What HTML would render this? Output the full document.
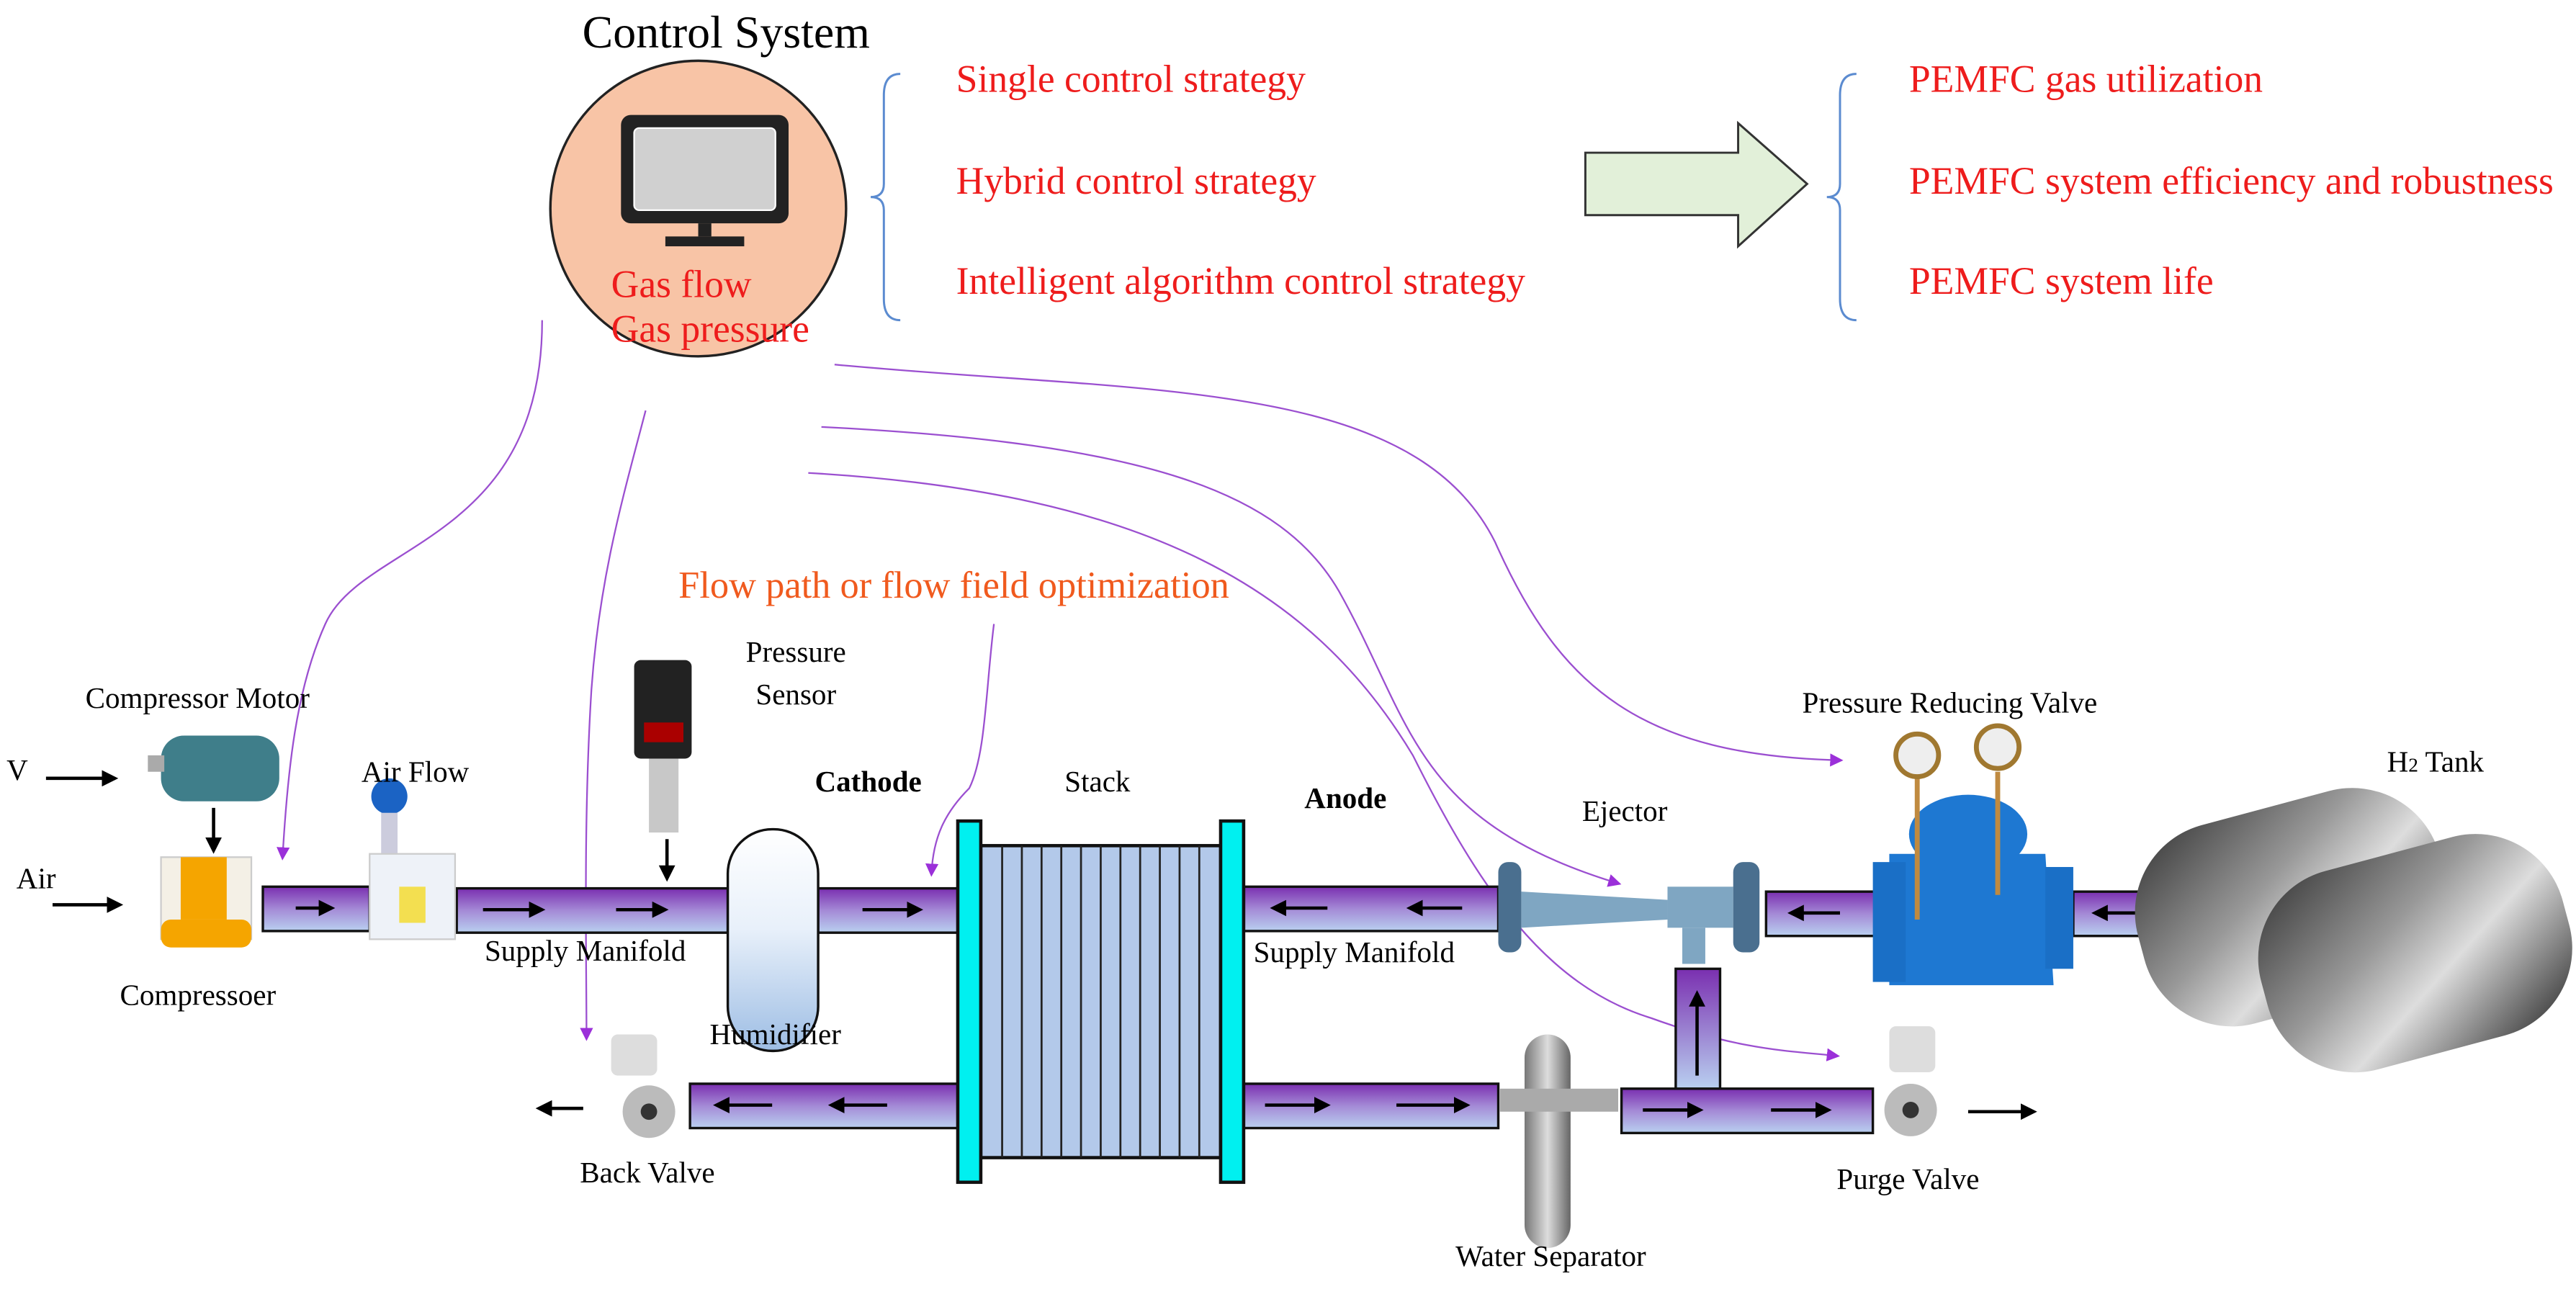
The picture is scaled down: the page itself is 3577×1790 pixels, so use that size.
<!DOCTYPE html>
<html><head><meta charset="utf-8"><style>
html,body{margin:0;padding:0;background:#fff;width:3577px;height:1790px;overflow:hidden}
svg{display:block}
text{font-family:"Liberation Serif",serif}
.r{fill:#ee1c1c;font-size:23.5px}
.k{fill:#000;font-size:18px}
</style></head><body>
<svg width="3577" height="1790" viewBox="0 0 1568 785" preserveAspectRatio="none" xmlns="http://www.w3.org/2000/svg">
<defs>
<linearGradient id="pg" x1="0" y1="0" x2="0" y2="1"><stop offset="0" stop-color="#7a2fb0"/><stop offset="0.5" stop-color="#a48ad6"/><stop offset="1" stop-color="#b9d0f0"/></linearGradient>
<linearGradient id="pv" x1="0" y1="0" x2="0" y2="1"><stop offset="0" stop-color="#7a2fb0"/><stop offset="1" stop-color="#b9d0f0"/></linearGradient>
<linearGradient id="hum" x1="0" y1="0" x2="0" y2="1"><stop offset="0" stop-color="#fff"/><stop offset="0.45" stop-color="#e8f0fa"/><stop offset="1" stop-color="#9dbde4"/></linearGradient>
<linearGradient id="tank" x1="0" y1="0" x2="1" y2="1"><stop offset="0" stop-color="#333"/><stop offset="0.4" stop-color="#999"/><stop offset="0.6" stop-color="#ddd"/><stop offset="1" stop-color="#222"/></linearGradient>
<linearGradient id="steel" x1="0" y1="0" x2="1" y2="0"><stop offset="0" stop-color="#777"/><stop offset="0.5" stop-color="#ddd"/><stop offset="1" stop-color="#666"/></linearGradient>
<marker id="pa" markerWidth="8" markerHeight="8" refX="6" refY="4" orient="auto" markerUnits="userSpaceOnUse"><path d="M0,0 L8,4 L0,8z" fill="#9b30d9"/></marker>
<marker id="ba" markerWidth="10" markerHeight="10" refX="8" refY="5" orient="auto" markerUnits="userSpaceOnUse"><path d="M0,0 L10,5 L0,10z" fill="#000"/></marker>
</defs>

<text x="442" y="29" font-size="28" text-anchor="middle">Control System</text>
<circle cx="425" cy="127" r="90" fill="#f8c4a6" stroke="#222" stroke-width="1.5"/>
<rect x="378" y="70" width="102" height="66" rx="6" fill="#222"/>
<rect x="386" y="78" width="86" height="50" rx="3" fill="#d0d0d0" stroke="#fff" stroke-width="1"/>
<rect x="425" y="136" width="8" height="8" fill="#222"/>
<rect x="405" y="144" width="48" height="6" fill="#222"/>
<text x="372" y="181" class="r" font-size="21">Gas flow</text>
<text x="372" y="208" class="r" font-size="21">Gas pressure</text>

<path d="M548,45 Q538,45 538,58 L538,112 Q538,120 530,120 Q538,120 538,128 L538,182 Q538,195 548,195" fill="none" stroke="#5b8bd0" stroke-width="1.3"/>
<text x="582" y="56" class="r">Single control strategy</text>
<text x="582" y="118" class="r">Hybrid control strategy</text>
<text x="582" y="179" class="r">Intelligent algorithm control strategy</text>

<path d="M965,93 L1058,93 L1058,75 L1100,112 L1058,150 L1058,131 L965,131z" fill="#e2f0d9" stroke="#333" stroke-width="1.3"/>
<path d="M1130,45 Q1120,45 1120,58 L1120,112 Q1120,120 1112,120 Q1120,120 1120,128 L1120,182 Q1120,195 1130,195" fill="none" stroke="#5b8bd0" stroke-width="1.3"/>
<text x="1162" y="56" class="r">PEMFC gas utilization</text>
<text x="1162" y="118" class="r">PEMFC system efficiency and robustness</text>
<text x="1162" y="179" class="r">PEMFC system life</text>

<text x="413" y="364" fill="#f05a1e" font-size="23">Flow path or flow field optimization</text>

<g fill="none" stroke="#9b4fd0" stroke-width="1" marker-end="url(#pa)">
<path d="M330,195 C330,330 220,330 198,380 C180,420 175,470 172,522"/>
<path d="M393,250 C380,300 365,350 360,420 C355,500 357,580 357,632"/>
<path d="M508,222 C700,240 860,230 910,330 C950,420 1000,460 1120,463"/>
<path d="M500,260 C700,270 780,300 815,360 C860,440 860,500 985,538"/>
<path d="M492,288 C700,300 800,360 860,460 C900,540 940,600 1005,620 C1060,640 1090,640 1118,643"/>
<path d="M605,380 C600,420 600,460 590,480 C575,495 568,510 567,532"/>
</g>

<g stroke="#111" stroke-width="1.5" fill="url(#pg)">
<rect x="160" y="540" width="65" height="27"/>
<rect x="278" y="541" width="165" height="27"/>
<rect x="498" y="541" width="86" height="27"/>
<rect x="757" y="540" width="155" height="27"/>
<rect x="1075" y="543" width="66" height="27"/>
<rect x="1262" y="543" width="62" height="27"/>
<rect x="420" y="660" width="164" height="27"/>
<rect x="757" y="660" width="155" height="27"/>
<rect x="987" y="663" width="153" height="27"/>
</g>
<rect x="1020" y="590" width="27" height="73" fill="url(#pv)" stroke="#111" stroke-width="1.5"/>

<g stroke="#000" stroke-width="2" marker-end="url(#ba)">
<line x1="180" y1="553" x2="202" y2="553"/>
<line x1="294" y1="554" x2="330" y2="554"/>
<line x1="375" y1="554" x2="405" y2="554"/>
<line x1="525" y1="554" x2="560" y2="554"/>
<line x1="808" y1="553" x2="775" y2="553"/>
<line x1="890" y1="553" x2="858" y2="553"/>
<line x1="1120" y1="556" x2="1090" y2="556"/>
<line x1="1308" y1="556" x2="1275" y2="556"/>
<line x1="470" y1="673" x2="436" y2="673"/>
<line x1="540" y1="673" x2="506" y2="673"/>
<line x1="770" y1="673" x2="808" y2="673"/>
<line x1="850" y1="673" x2="893" y2="673"/>
<line x1="1000" y1="676" x2="1035" y2="676"/>
<line x1="1078" y1="676" x2="1113" y2="676"/>
<line x1="1033" y1="655" x2="1033" y2="605"/>
<line x1="28" y1="474" x2="70" y2="474"/>
<line x1="32" y1="551" x2="73" y2="551"/>
<line x1="130" y1="492" x2="130" y2="518"/>
<line x1="406" y1="511" x2="406" y2="535"/>
<line x1="355" y1="675" x2="328" y2="675"/>
<line x1="1198" y1="677" x2="1238" y2="677"/>
</g>

<rect x="597" y="515" width="146" height="190" fill="#b3c9ea" stroke="#111" stroke-width="2"/>
<g stroke="#222" stroke-width="1.2">
<line x1="610" y1="515" x2="610" y2="705"/><line x1="622" y1="515" x2="622" y2="705"/><line x1="634" y1="515" x2="634" y2="705"/><line x1="646" y1="515" x2="646" y2="705"/><line x1="658" y1="515" x2="658" y2="705"/><line x1="670" y1="515" x2="670" y2="705"/><line x1="682" y1="515" x2="682" y2="705"/><line x1="694" y1="515" x2="694" y2="705"/><line x1="706" y1="515" x2="706" y2="705"/><line x1="718" y1="515" x2="718" y2="705"/><line x1="730" y1="515" x2="730" y2="705"/>
</g>
<rect x="583" y="500" width="14" height="220" fill="#00f0f0" stroke="#111" stroke-width="2"/>
<rect x="743" y="500" width="14" height="220" fill="#00f0f0" stroke="#111" stroke-width="2"/>

<rect x="443" y="505" width="55" height="135" rx="27" fill="url(#hum)" stroke="#111" stroke-width="1.5"/>

<rect x="98" y="448" width="72" height="40" rx="14" fill="#3f7e8a"/>
<rect x="90" y="460" width="10" height="10" fill="#aaa"/>
<rect x="98" y="522" width="55" height="50" fill="#f4f0e6" stroke="#ccc"/>
<rect x="110" y="522" width="28" height="38" fill="#f5a500"/>
<rect x="98" y="560" width="55" height="17" rx="6" fill="#f5a500"/>
<circle cx="237" cy="485" r="11" fill="#1b63c4"/>
<rect x="232" y="495" width="10" height="25" fill="#ccd"/>
<rect x="225" y="520" width="52" height="52" fill="#eef2f8" stroke="#ccc"/>
<rect x="243" y="540" width="16" height="22" fill="#f3df50"/>
<rect x="386" y="402" width="35" height="60" rx="4" fill="#222"/>
<rect x="392" y="440" width="24" height="12" fill="#a00"/>
<rect x="395" y="462" width="18" height="45" fill="#c8c8c8"/>
<rect x="372" y="630" width="28" height="25" rx="4" fill="#ddd"/>
<circle cx="395" cy="677" r="16" fill="#bbb"/><circle cx="395" cy="677" r="5" fill="#333"/>
<rect x="912" y="525" width="14" height="55" rx="6" fill="#4a6f8f"/>
<path d="M926,543 L1015,548 L1015,560 L926,565z" fill="#7fa6c2"/>
<rect x="1015" y="540" width="40" height="25" fill="#7fa6c2"/>
<rect x="1055" y="525" width="16" height="55" rx="6" fill="#4a6f8f"/>
<rect x="1024" y="565" width="14" height="22" fill="#7fa6c2"/>
<path d="M1150,520 L1245,520 L1250,600 L1150,600z" fill="#1e78d2"/>
<ellipse cx="1198" cy="508" rx="36" ry="24" fill="#1e78d2"/>
<rect x="1140" y="525" width="20" height="73" fill="#1a6fc6"/>
<rect x="1245" y="528" width="17" height="62" fill="#1a6fc6"/>
<line x1="1167" y1="470" x2="1167" y2="560" stroke="#c08a40" stroke-width="3"/>
<line x1="1216" y1="470" x2="1216" y2="545" stroke="#c08a40" stroke-width="3"/>
<circle cx="1167" cy="460" r="13" fill="#eee" stroke="#a07830" stroke-width="3"/>
<circle cx="1216" cy="455" r="13" fill="#eee" stroke="#a07830" stroke-width="3"/>
<rect x="1300" y="490" width="190" height="125" rx="55" fill="url(#tank)" transform="rotate(-15 1395 552)"/>
<rect x="1375" y="518" width="190" height="125" rx="55" fill="url(#tank)" transform="rotate(-15 1470 580)"/>
<rect x="928" y="630" width="28" height="130" rx="14" fill="url(#steel)"/>
<rect x="913" y="663" width="72" height="14" fill="#aaa"/>
<rect x="1150" y="625" width="28" height="28" rx="4" fill="#ddd"/>
<circle cx="1163" cy="676" r="16" fill="#bbb"/><circle cx="1163" cy="676" r="5" fill="#333"/>

<text x="52" y="431" class="k">Compressor Motor</text>
<text x="4" y="475" class="k">V</text>
<text x="10" y="541" class="k">Air</text>
<text x="220" y="476" class="k">Air Flow</text>
<text x="73" y="612" class="k">Compressoer</text>
<text x="454" y="403" class="k">Pressure</text>
<text x="460" y="429" class="k">Sensor</text>
<text x="295" y="585" class="k">Supply Manifold</text>
<text x="432" y="636" class="k">Humidifier</text>
<text x="496" y="482" class="k" font-weight="bold">Cathode</text>
<text x="648" y="482" class="k">Stack</text>
<text x="794" y="492" class="k" font-weight="bold">Anode</text>
<text x="763" y="586" class="k">Supply Manifold</text>
<text x="353" y="720" class="k">Back Valve</text>
<text x="963" y="500" class="k">Ejector</text>
<text x="1097" y="434" class="k">Pressure Reducing Valve</text>
<text x="1453" y="470" class="k">H<tspan font-size="12">2</tspan> Tank</text>
<text x="1118" y="724" class="k">Purge Valve</text>
<text x="886" y="771" class="k">Water Separator</text>
</svg>
</body></html>
